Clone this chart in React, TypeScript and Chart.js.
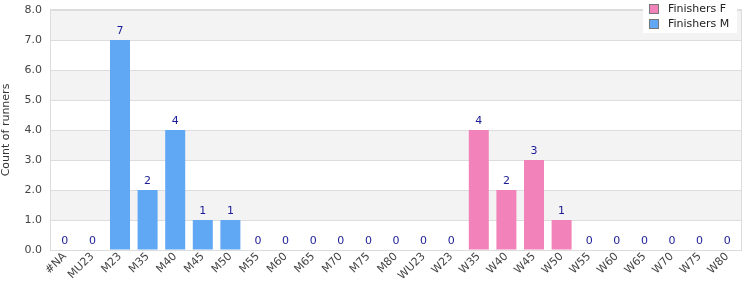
import React, { useEffect, useRef } from "react";
import { Chart, registerables } from "chart.js";

Chart.register(...registerables);

const categories = ["#NA","MU23","M23","M35","M40","M45","M50","M55","M60","M65","M70","M75","M80","WU23","W23","W35","W40","W45","W50","W55","W60","W65","W70","W75","W80"];
const finishersF = [0,0,0,0,0,0,0,0,0,0,0,0,0,0,0,4,2,3,1,0,0,0,0,0,0];
const finishersM = [0,0,7,2,4,1,1,0,0,0,0,0,0,0,0,0,0,0,0,0,0,0,0,0,0];
const yTicks = [0,1,2,3,4,5,6,7,8];

const FONT = "'DejaVu Sans', Verdana, sans-serif";
const PINK = "#f283ba";
const BLUE = "#60a8f4";

const stripes = {
  id: "stripes",
  beforeDraw(chart: any) {
    const { ctx, chartArea, scales } = chart;
    const y = scales.y;
    ctx.save();
    ctx.fillStyle = "#ffffff";
    ctx.fillRect(chartArea.left, chartArea.top, chartArea.right - chartArea.left, chartArea.bottom - chartArea.top);
    ctx.fillStyle = "#f3f3f3";
    for (let v = yTicks[yTicks.length - 1]; v > 0; v -= 2) {
      const t = y.getPixelForValue(v);
      const b = y.getPixelForValue(v - 1);
      ctx.fillRect(chartArea.left, t, chartArea.right - chartArea.left, b - t);
    }
    ctx.restore();
  },
  afterDraw(chart: any) {
    const { ctx, chartArea, scales } = chart;
    ctx.save();
    // frame
    ctx.strokeStyle = "#dcdcdc";
    ctx.lineWidth = 1;
    ctx.strokeRect(Math.round(chartArea.left) - 0.5, Math.round(chartArea.top) - 0.5, Math.round(chartArea.right - chartArea.left) + 1, Math.round(chartArea.bottom - chartArea.top) + 1);
    // value labels
    ctx.font = `11px ${FONT}`;
    ctx.fillStyle = "#1c1c96";
    ctx.textAlign = "center";
    ctx.textBaseline = "bottom";
    categories.forEach((c, i) => {
      const total = finishersF[i] + finishersM[i];
      const x = scales.x.getPixelForValue(i);
      const yy = scales.y.getPixelForValue(total);
      ctx.fillText(String(total), x, yy - 3);
    });
    // legend
    const bx = 643, by = 0, bw = 94, bh = 33;
    ctx.fillStyle = "#ffffff";
    ctx.fillRect(bx, by, bw, bh);
    const items = [
      { label: "Finishers F", color: PINK },
      { label: "Finishers M", color: BLUE },
    ];
    ctx.textAlign = "left";
    ctx.textBaseline = "middle";
    items.forEach((it, k) => {
      const cy = 9 + k * 15;
      ctx.fillStyle = it.color;
      ctx.fillRect(bx + 7, cy - 4, 8, 8);
      ctx.strokeStyle = "#777777";
      ctx.strokeRect(bx + 6.5, cy - 4.5, 9, 9);
      ctx.fillStyle = "#222222";
      ctx.fillText(it.label, bx + 25, cy);
    });
    ctx.restore();
  },
};

export default function App() {
  const ref = useRef<HTMLCanvasElement>(null);
  useEffect(() => {
    document.body.style.margin = "0";
    const chart = new Chart(ref.current as HTMLCanvasElement, {
      type: "bar",
      data: {
        labels: categories,
        datasets: [
          { label: "Finishers F", data: finishersF, backgroundColor: PINK, borderWidth: 0, barPercentage: 0.725, categoryPercentage: 1 },
          { label: "Finishers M", data: finishersM, backgroundColor: BLUE, borderWidth: 0, barPercentage: 0.725, categoryPercentage: 1 },
        ],
      },
      options: {
        animation: false,
        responsive: false,
        maintainAspectRatio: false,
        layout: { padding: { top: 10, right: 9, left: 0, bottom: 0 } },
        plugins: { legend: { display: false }, tooltip: { enabled: false } },
        scales: {
          x: {
            stacked: true,
            grid: { display: false, drawTicks: false },
            border: { display: false },
            ticks: {
              autoSkip: false,
              maxRotation: 45,
              minRotation: 45,
              color: "#444444",
              font: { family: FONT, size: 11 },
              padding: 0,
            },
            afterFit(scale: any) { scale.height = 50; scale.paddingLeft = 0; scale.paddingRight = 0; },
          },
          y: {
            stacked: true,
            min: 0,
            max: 8,
            grid: { color: "#dddddd", drawTicks: false },
            border: { display: false },
            ticks: {
              stepSize: 1,
              color: "#444444",
              font: { family: FONT, size: 11 },
              padding: 9,
              callback: (v: any) => Number(v).toFixed(1),
            },
            title: {
              display: true,
              text: "Count of runners",
              color: "#333333",
              font: { family: FONT, size: 11 },
              padding: 0,
            },
            afterFit(scale: any) { scale.width = 51; scale.paddingTop = 0; scale.paddingBottom = 0; },
          },
        },
      },
      plugins: [stripes],
    });
    return () => chart.destroy();
  }, []);
  return <canvas ref={ref} width={750} height={300} style={{ display: "block" }} />;
}
